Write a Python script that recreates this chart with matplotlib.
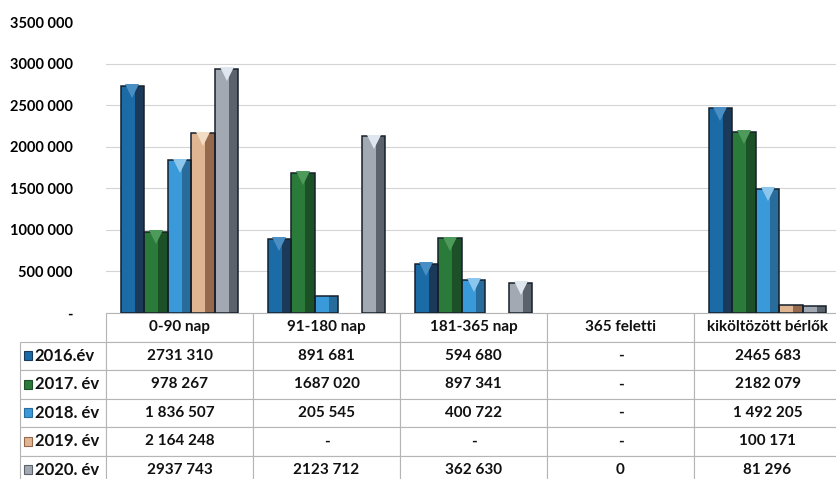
import numpy as np
import matplotlib
matplotlib.use("Agg")
import matplotlib.pyplot as plt
from matplotlib.patches import Rectangle
from matplotlib.transforms import ScaledTranslation

plt.rcParams['font.family'] = ['Lato', 'DejaVu Sans']
plt.rcParams['font.weight'] = 'bold'

categories = ["0-90 nap", "91-180 nap", "181-365 nap", "365 feletti", "kiköltözött bérlők"]
years = ["2016.év", "2017. év", "2018. év", "2019. év", "2020. év"]

# table text exactly as printed, bar heights are parsed from it
cells_2016 = ["2731 310", "891 681", "594 680", "-", "2465 683"]
cells_2017 = ["978 267", "1687 020", "897 341", "-", "2182 079"]
cells_2018 = ["1 836 507", "205 545", "400 722", "-", "1 492 205"]
cells_2019 = ["2 164 248", "-", "-", "-", "100 171"]
cells_2020 = ["2937 743", "2123 712", "362 630", "0", "81 296"]
table_rows = [cells_2016, cells_2017, cells_2018, cells_2019, cells_2020]

ytick_values = [0, 500000, 1000000, 1500000, 2000000, 2500000, 3000000, 3500000]
ytick_labels = ["-", "500 000", "1000 000", "1500 000", "2000 000", "2500 000", "3000 000", "3500 000"]

face_colors = ["#1b6ba6", "#2a7a3a", "#3a9ad9", "#e0b592", "#a3a9b2"]
side_colors = ["#1b3a5a", "#1c5127", "#286c9c", "#97694c", "#5c626b"]
top_colors = ["#4a8fc4", "#4d9a5a", "#8cc6ec", "#f3dcc4", "#dfe6ee"]


def parse(s):
    s = s.replace(" ", "")
    return np.nan if s == "-" else float(s)


def main():
    W, H = 836, 479
    fig = plt.figure(figsize=(W / 100, H / 100), dpi=100)
    ax = fig.add_axes([106 / W, (H - 313) / H, 735 / W, 291 / H])

    x = np.arange(len(categories))
    w = 0.16
    tri = ScaledTranslation(0, -4 / 72, fig.dpi_scale_trans)
    for i, row in enumerate(table_rows):
        vals = np.array([parse(s) for s in row])
        vals[vals == 0] = np.nan
        pos = x + (i - 2) * w
        ax.bar(pos, vals, width=w, color=face_colors[i], linewidth=0, zorder=3)
        ax.bar(pos + w * 0.3, vals, width=w * 0.4, color=side_colors[i], linewidth=0, zorder=3)
        ax.bar(pos, vals, width=w, fill=False, edgecolor="#15202b", linewidth=1.1, zorder=4)
        big = vals > 300000
        ax.plot(pos[big], vals[big], linestyle="none", marker="v", markersize=10,
                color=top_colors[i], markeredgewidth=0, zorder=5,
                transform=ax.transData + tri)

    ax.set_xlim(-0.5, len(categories) - 0.5)
    ax.set_ylim(0, 3500000)
    ax.set_xticks([])
    ax.set_yticks(ytick_values, ytick_labels)
    ax.tick_params(axis="y", length=0, pad=24, labelsize=10.5)
    for lab in ax.get_yticklabels():
        lab.set_fontweight("bold")
    for sp in ax.spines.values():
        sp.set_visible(False)
    ax.yaxis.grid(True, color="#d4d4d4", linewidth=0.8)
    ax.get_ygridlines()[-1].set_visible(False)
    ax.set_axisbelow(True)

    # data table under the chart
    th = 171 / 291
    tbl = ax.table(cellText=table_rows, rowLabels=years, colLabels=categories,
                   cellLoc="center", rowLoc="left", bbox=[0, -th, 1, th])
    tbl.auto_set_font_size(False)
    tbl.set_fontsize(11)
    for (r, c), cell in tbl.get_celld().items():
        cell.set_edgecolor("#b5b5b5")
        cell.set_linewidth(0.8)
        cell.get_text().set_fontweight("bold")
        cell.get_text().set_color("#111111")
        if c == -1:
            cell.set_width(88 / 735)
            cell.PAD = 0.17
            cell.get_text().set_fontsize(12)

    # small legend keys in the row labels
    rh = th / 6
    sq_w, sq_h = 8 / 735, 9 / 291
    for i in range(len(years)):
        yc = -(i + 1.5) * rh
        ax.add_patch(Rectangle((-82 / 735, yc - sq_h / 2), sq_w, sq_h,
                               facecolor=face_colors[i], edgecolor=side_colors[i],
                               linewidth=0.8, transform=ax.transAxes, clip_on=False))

    plt.savefig("out.png", dpi=100)


if __name__ == "__main__":
    main()
